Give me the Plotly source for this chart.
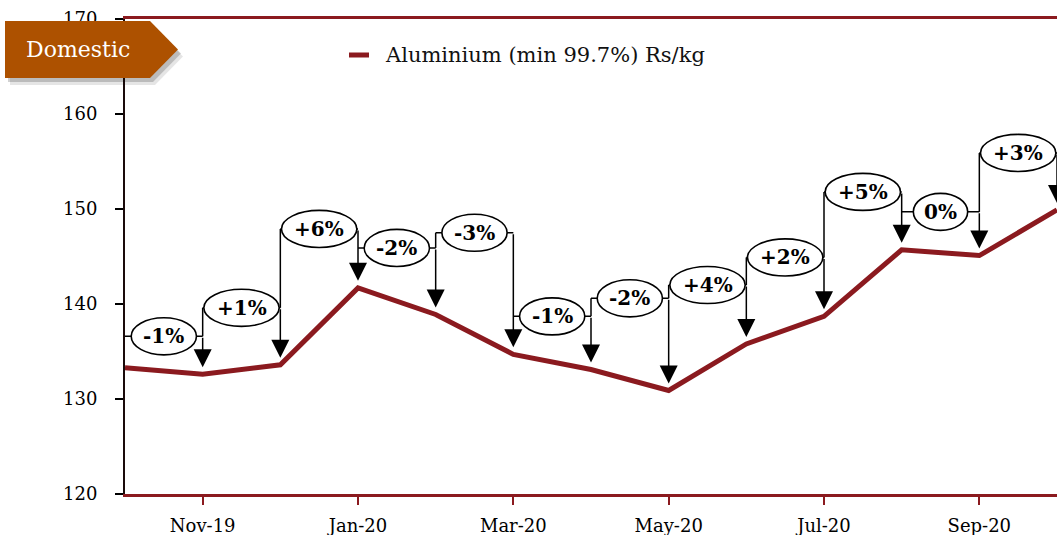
import plotly.graph_objects as go

# ---- data ----
months = ["Oct-19", "Nov-19", "Dec-19", "Jan-20", "Feb-20", "Mar-20", "Apr-20",
          "May-20", "Jun-20", "Jul-20", "Aug-20", "Sep-20", "Oct-20"]
prices = [133.3, 132.6, 133.6, 141.7, 138.9, 134.7, 133.1,
          130.9, 135.8, 138.7, 145.7, 145.1, 149.9]
change_labels = ["-1%", "+1%", "+6%", "-2%", "-3%", "-1%", "-2%",
                 "+4%", "+2%", "+5%", "0%", "+3%"]
bracket_levels = [136.6, 139.6, 147.9, 145.9, 147.5, 138.7, 140.6,
                  142.0, 144.9, 151.8, 149.7, 155.9]
tick_months = ["Nov-19", "Jan-20", "Mar-20", "May-20", "Jul-20", "Sep-20"]
series_name = "Aluminium (min 99.7%) Rs/kg"
badge_text = "Domestic"

W, H = 1057, 535
ML, MR, MT, MB = 125, 0, 19, 41
PW, PH = W - ML - MR, H - MT - MB

LINE_RED = "#8B1A1F"
BADGE = "#AD5100"
FONT = "DejaVu Serif"


def px(x):
    return (x - ML) / PW


def py(y):
    return (H - MB - y) / PH


xs = list(range(len(months)))

fig = go.Figure()
fig.add_trace(go.Scatter(x=xs, y=prices, mode="lines", name=series_name,
                         line=dict(color=LINE_RED, width=5), showlegend=False,
                         hoverinfo="skip"))

shapes = []
annotations = []

# brackets with ovals and arrows
for i, lab in enumerate(change_labels):
    h = bracket_levels[i]
    x0, x1 = xs[i], xs[i + 1]
    # horizontal connector
    shapes.append(dict(type="line", xref="x", yref="y", x0=x0, x1=x1, y0=h, y1=h,
                       line=dict(color="black", width=1.5), layer="above"))
    # left vertical joining to previous bracket
    if i > 0 and h > bracket_levels[i - 1]:
        shapes.append(dict(type="line", xref="x", yref="y", x0=x0, x1=x0,
                           y0=h, y1=bracket_levels[i - 1],
                           line=dict(color="black", width=1.5), layer="above"))
    # oval
    if lab.startswith("+"):
        w = 0.97
    elif lab.startswith("-"):
        w = 0.84
    else:
        w = 0.70
    cx = (x0 + x1) / 2
    shapes.append(dict(type="circle", xref="x", yref="y",
                       x0=cx - w / 2, x1=cx + w / 2, y0=h - 1.95, y1=h + 1.95,
                       fillcolor="white", line=dict(color="black", width=1.6),
                       layer="above"))
    # arrow down to the next month's point
    annotations.append(dict(x=x1, y=prices[i + 1], xref="x", yref="y",
                            ax=x1, ay=h, axref="x", ayref="y", text="",
                            showarrow=True, arrowhead=2, arrowsize=2.4,
                            arrowwidth=1.5, arrowcolor="black", standoff=7))
    # label
    annotations.append(dict(x=cx, y=h, xref="x", yref="y", text="<b>%s</b>" % lab,
                            showarrow=False, xanchor="center", yanchor="middle",
                            font=dict(family=FONT, size=20, color="black")))

# legend (manual)
shapes.append(dict(type="line", xref="paper", yref="paper",
                   x0=px(349), x1=px(369), y0=py(55), y1=py(55),
                   line=dict(color=LINE_RED, width=5)))
annotations.append(dict(x=px(383), y=py(55), xref="paper", yref="paper",
                        text=series_name, showarrow=False, xanchor="left",
                        yanchor="middle",
                        font=dict(family=FONT, size=21, color="#111111")))

# badge shadow + badge
def badge_path(dx=0, dy=0):
    pts = [(5, 21), (150, 21), (178, 49.5), (150, 78), (5, 78)]
    return "M " + " L ".join("%f,%f" % (px(a + dx), py(b + dy)) for a, b in pts) + " Z"


shapes.append(dict(type="path", xref="paper", yref="paper", path=badge_path(5, 7),
                   fillcolor="rgba(0,0,0,0.10)", line=dict(width=0), layer="above"))
shapes.append(dict(type="path", xref="paper", yref="paper", path=badge_path(3, 4),
                   fillcolor="rgba(0,0,0,0.18)", line=dict(width=0), layer="above"))
shapes.append(dict(type="path", xref="paper", yref="paper", path=badge_path(),
                   fillcolor=BADGE, line=dict(width=0), layer="above"))
annotations.append(dict(x=px(78), y=py(50), xref="paper", yref="paper",
                        text=badge_text, showarrow=False, xanchor="center",
                        yanchor="middle",
                        font=dict(family=FONT, size=22, color="white")))

fig.update_layout(
    width=W, height=H,
    margin=dict(l=ML, r=MR, t=MT, b=MB, pad=0),
    paper_bgcolor="white", plot_bgcolor="white",
    shapes=shapes, annotations=annotations,
    showlegend=False,
    xaxis=dict(range=[0, 12], tickmode="array",
               tickvals=[months.index(m) for m in tick_months], ticktext=tick_months,
               ticks="outside", ticklen=8, tickwidth=1.5, tickcolor=LINE_RED,
               showline=True, linecolor=LINE_RED, linewidth=2.5, mirror=True,
               showgrid=False, zeroline=False, ticklabelstandoff=6,
               tickfont=dict(family=FONT, size=18, color="black")),
    yaxis=dict(range=[120, 170], tickmode="linear", tick0=120, dtick=10,
               ticks="outside", ticklen=8, tickwidth=2, tickcolor="black",
               showline=True, linecolor="#1a0a0a", linewidth=2,
               showgrid=False, zeroline=False, ticklabelstandoff=14,
               tickfont=dict(family=FONT, size=18, color="black")),
)

fig.write_html("out.html",
               config={"displayModeBar": False},
               post_script="document.body.style.margin='0';"
                           "document.body.style.padding='0';"
                           "document.body.style.overflow='hidden';")
